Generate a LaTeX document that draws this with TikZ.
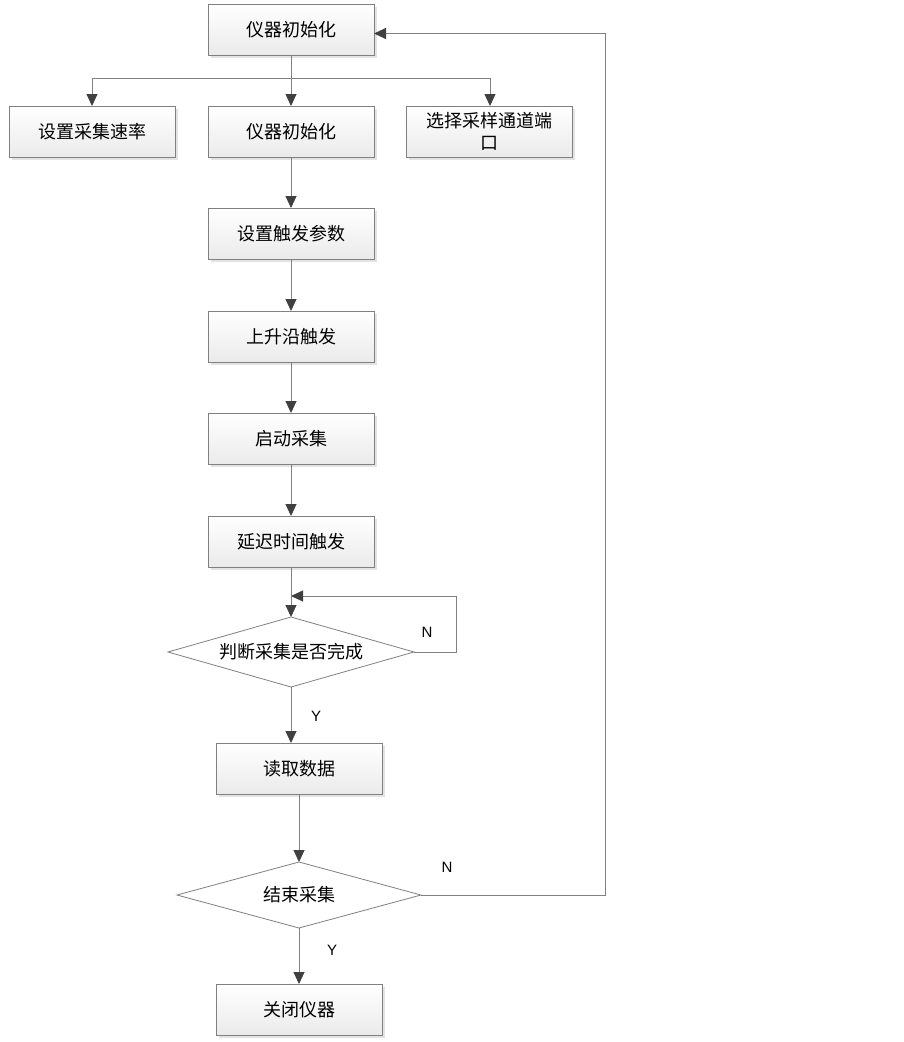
\documentclass[tikz,border=0pt]{standalone}
\usepackage{fontspec}
\usepackage{tikz}
\usetikzlibrary{positioning,shapes.geometric,arrows.meta,shadows}
\newfontfamily\cjk{Noto Sans CJK SC}
\newfontfamily\lat{Liberation Sans}
\definecolor{linegray}{RGB}{128,128,128}
\definecolor{tipgray}{RGB}{64,64,64}

\begin{document}
\begin{tikzpicture}[
		box/.style={draw=linegray, line width=0.8pt, top color=white, bottom color=gray!16, minimum width=166pt, minimum height=51pt, inner sep=0pt, outer sep=0pt, align=center, font=\cjk\fontsize{18pt}{22pt}\selectfont, drop shadow={shadow xshift=2.5pt, shadow yshift=-2.5pt, fill=gray!22, opacity=1}},
		choice/.style={draw=linegray, line width=0.8pt, fill=white, shape=diamond, aspect=3.5, inner sep=0pt, outer sep=0pt, font=\cjk\fontsize{18pt}{22pt}\selectfont},
		lbl/.style={font=\lat\fontsize{15pt}{17pt}\selectfont},
		flow/.style={draw=linegray, line width=0.9pt, -{Triangle[length=12pt, width=11pt, color=tipgray]}}
	]
				\useasboundingbox (0,0) rectangle (903pt,-1042pt);
				\node (init) [box] at (291pt,-29.5pt) {仪器初始化};
				\node (init2) [box, below=51pt of init] {仪器初始化};
				\node (rate) [box, left=33pt of init2] {设置采集速率};
				\node (port) [box, right=32pt of init2] {选择采样通道端\\口};
				\node (trigset) [box, below=51pt of init2] {设置触发参数};
				\node (rise) [box, below=52pt of trigset] {上升沿触发};
				\node (start) [box, below=51pt of rise] {启动采集};
				\node (delay) [box, below=52pt of start] {延迟时间触发};
				\node (judge) [choice, minimum width=246pt, minimum height=70pt, below=50pt of delay] {判断采集是否完成};
				\node (read) [box, below=56pt of judge, xshift=8pt] {读取数据};
				\node (end) [choice, minimum width=244pt, minimum height=66pt, below=68pt of read] {结束采集};
				\node (close) [box, below=56pt of end] {关闭仪器};
				
				\node (n1) [lbl] at ([xshift=13pt, yshift=20pt]judge.east) {N};
				\node (y1) [lbl] at ([xshift=25pt, yshift=-29pt]judge.south) {Y};
				\node (n2) [lbl] at ([xshift=26pt, yshift=28pt]end.east) {N};
				\node (y2) [lbl] at ([xshift=33pt, yshift=-22pt]end.south) {Y};
				
				\coordinate (fork) at ([yshift=-23pt]init.south);
				\coordinate (back) at ([yshift=21pt]judge.north);
				
				\draw [flow] (init) -- (init2);
				\draw [flow] (fork) -| (rate);
				\draw [flow] (fork) -| ([xshift=1pt]port.north);
				\draw [flow] (init2) -- (trigset);
				\draw [flow] (trigset) -- (rise);
				\draw [flow] (rise) -- (start);
				\draw [flow] (start) -- (delay);
				\draw [flow] (delay) -- (judge);
				\draw [flow] (judge.east) -- ++(42pt,0) |- (back);
				\draw [flow] (judge.south) -- (judge.south |- read.north);
				\draw [flow] (read) -- (end);
				\draw [flow] (end) -- (close);
				\draw [flow] (end.east) -- ++(184pt,0) |- ([yshift=-4pt]init.east);
			\end{tikzpicture}
\end{document}
